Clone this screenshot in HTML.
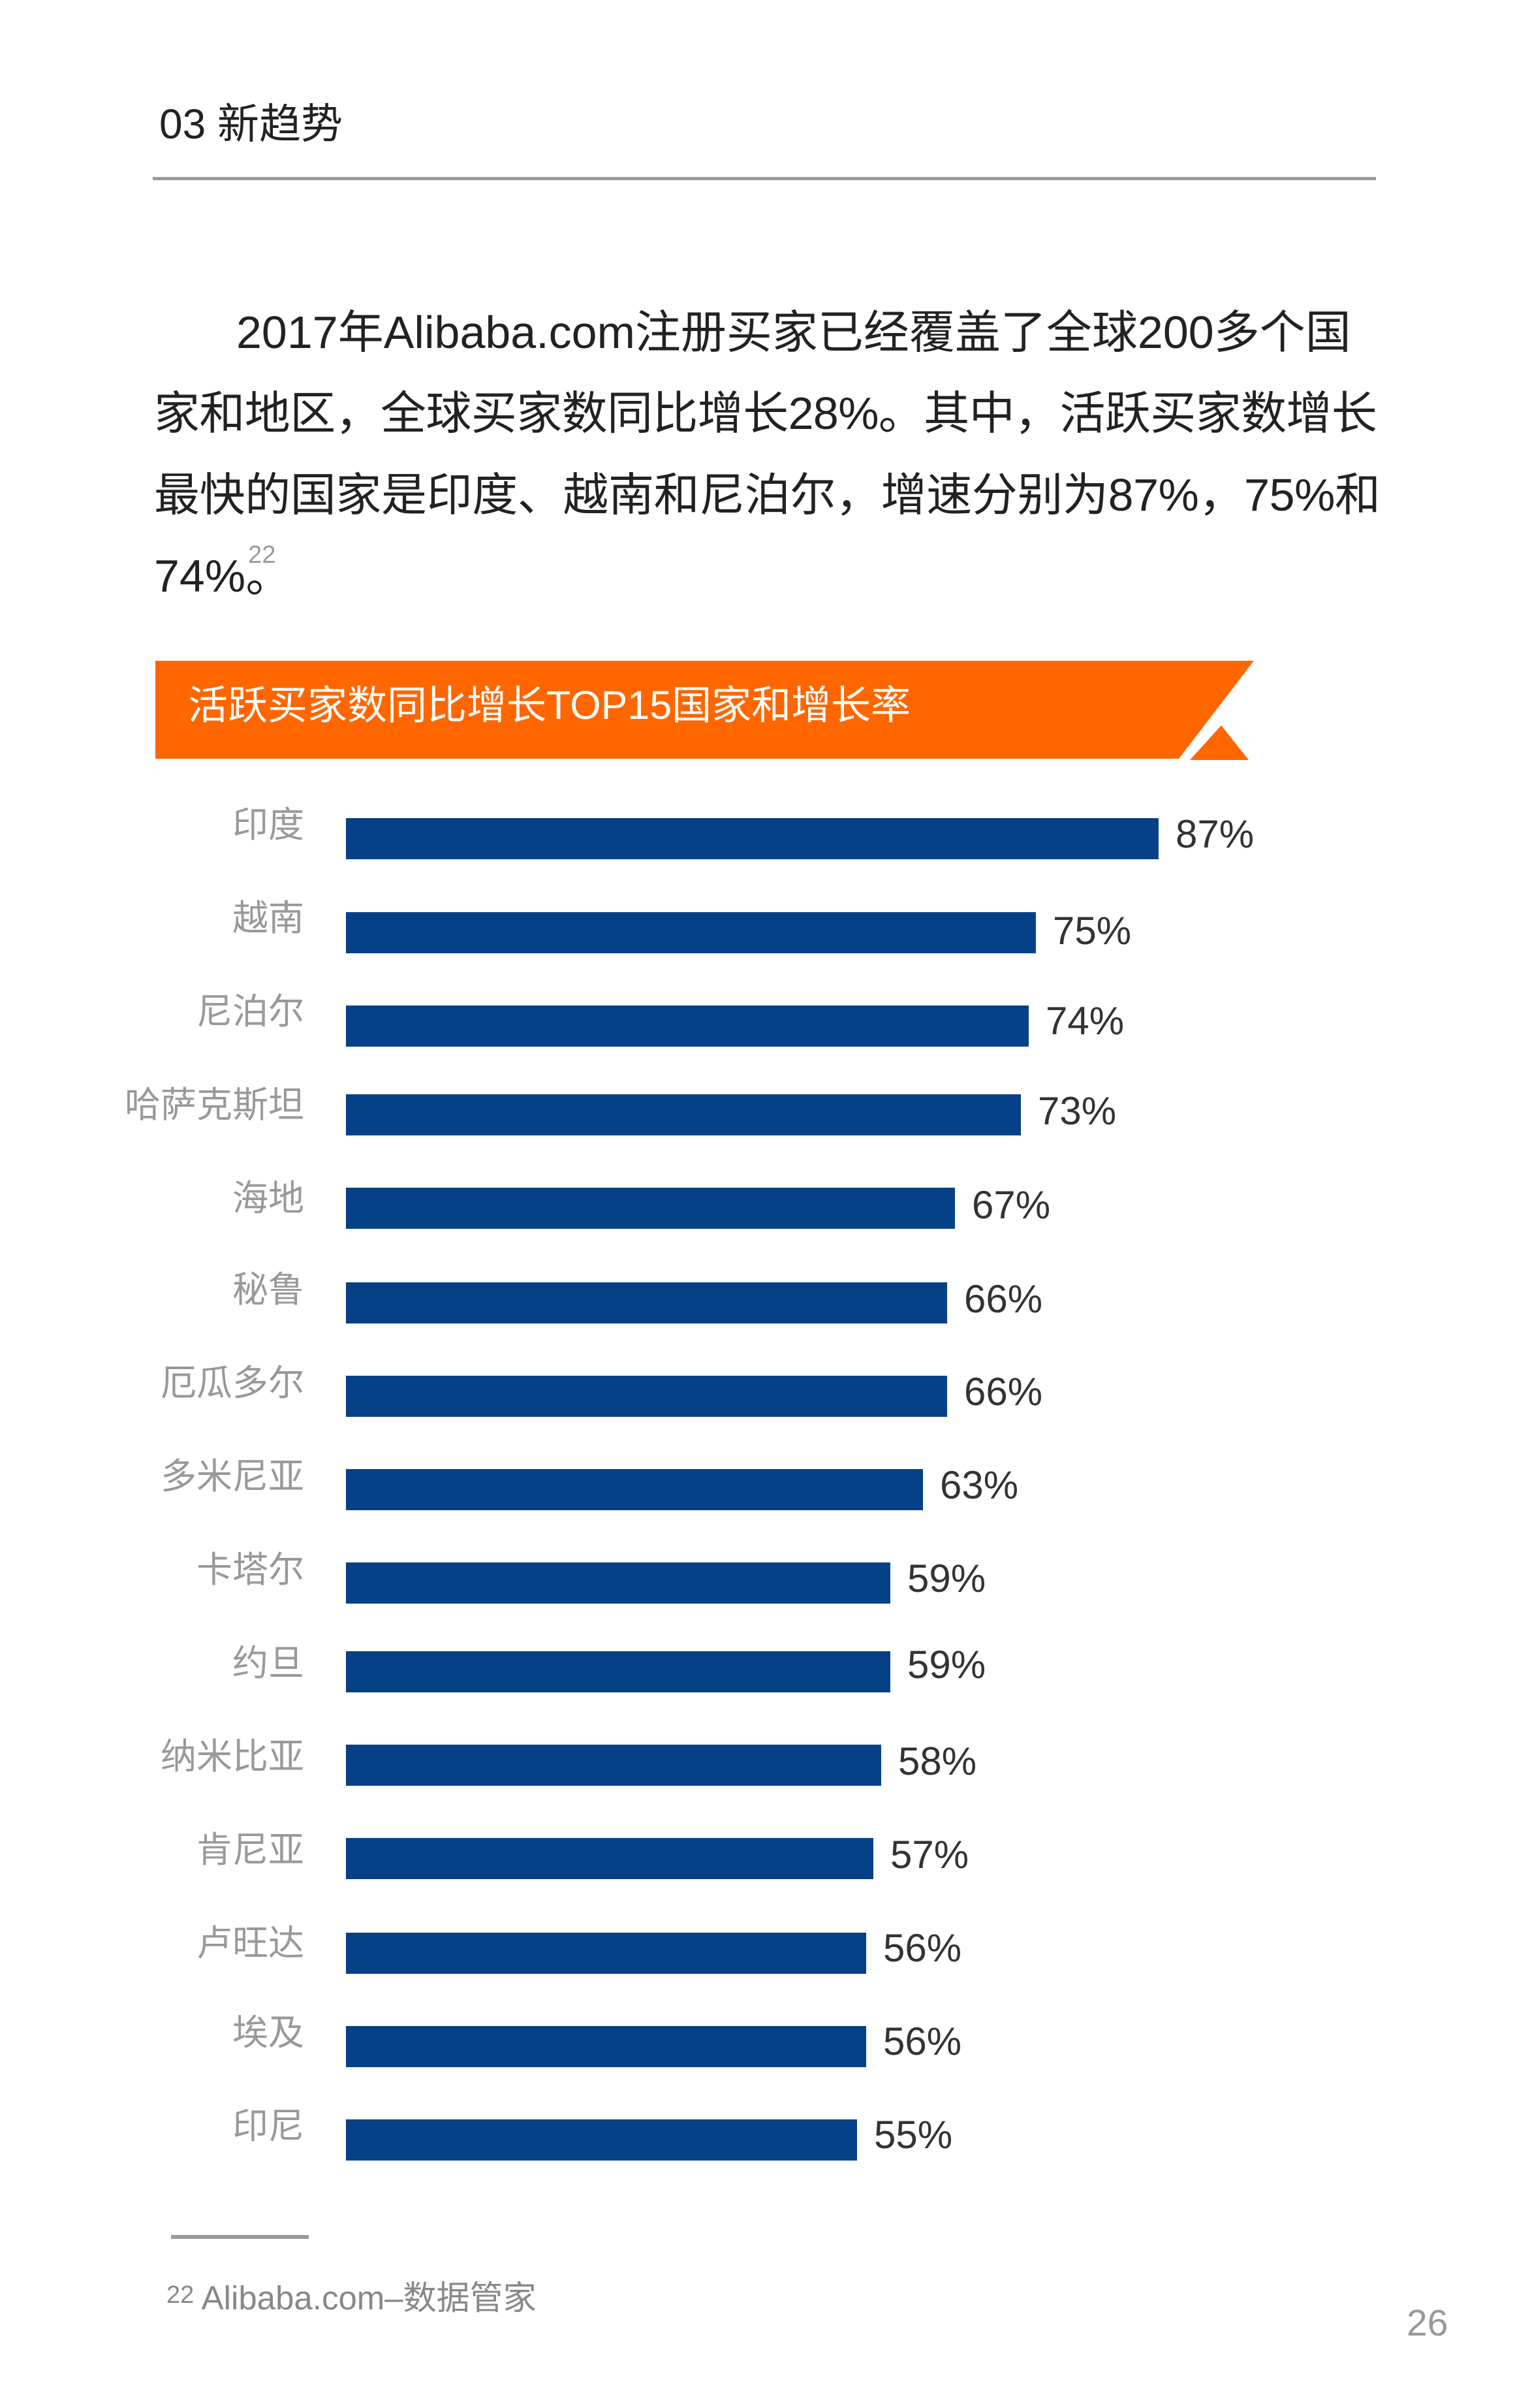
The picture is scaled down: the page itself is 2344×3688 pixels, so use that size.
<!DOCTYPE html>
<html><head><meta charset="utf-8"><style>
html,body{margin:0;padding:0;background:#fff}
body{width:2344px;height:3688px;position:relative;overflow:hidden;font-family:"Liberation Sans","Noto Sans CJK SC",sans-serif}
.a{position:absolute;white-space:nowrap}
.p{left:236px;font-size:70px;color:#222;line-height:70px}
.bar{position:absolute;left:530px;height:63px;background:#064087}
.lab{position:absolute;right:1878px;font-size:55px;color:#999;line-height:55px;white-space:nowrap}
.val{position:absolute;font-size:60px;color:#333;line-height:60px;white-space:nowrap}
</style></head><body>
<div class="a" style="left:244px;top:158px;font-size:64px;color:#222;line-height:64px">03 新趋势</div>
<div class="a" style="left:234px;top:271px;width:1874px;height:5px;background:#9a9a9a"></div>
<div class="a p" style="left:362px;top:474px">2017年Alibaba.com注册买家已经覆盖了全球200多个国</div>
<div class="a p" style="top:598px;letter-spacing:-0.6px">家和地区，全球买家数同比增长28%。其中，活跃买家数增长</div>
<div class="a p" style="top:723px;letter-spacing:-0.4px">最快的国家是印度、越南和尼泊尔，增速分别为87%，75%和</div>
<div class="a p" style="top:847px">74%<span style="position:relative;top:-44px;font-size:38px;color:#999;margin-left:4px">22</span><span style="margin-left:-46px">。</span></div>
<svg class="a" style="left:0;top:0" width="2344" height="1200">
<polygon points="238,1012 1921,1012 1806,1162 238,1162" fill="#ff6600"/>
<polygon points="1871,1111 1913,1164 1823,1164" fill="#ff6600"/>
</svg>
<div class="a" style="left:288px;top:1050px;font-size:61px;color:#fff;line-height:61px">活跃买家数同比增长TOP15国家和增长率</div>

<div class="bar" style="top:1253px;width:1245px"></div><div class="lab" style="top:1236px">印度</div><div class="val" style="left:1801px;top:1248px">87%</div>
<div class="bar" style="top:1397px;width:1057px"></div><div class="lab" style="top:1379px">越南</div><div class="val" style="left:1613px;top:1396px">75%</div>
<div class="bar" style="top:1540px;width:1046px"></div><div class="lab" style="top:1522px">尼泊尔</div><div class="val" style="left:1602px;top:1534px">74%</div>
<div class="bar" style="top:1676px;width:1034px"></div><div class="lab" style="top:1665px">哈萨克斯坦</div><div class="val" style="left:1590px;top:1672px">73%</div>
<div class="bar" style="top:1819px;width:933px"></div><div class="lab" style="top:1808px">海地</div><div class="val" style="left:1489px;top:1816px">67%</div>
<div class="bar" style="top:1964px;width:921px"></div><div class="lab" style="top:1948px">秘鲁</div><div class="val" style="left:1477px;top:1960px">66%</div>
<div class="bar" style="top:2107px;width:921px"></div><div class="lab" style="top:2091px">厄瓜多尔</div><div class="val" style="left:1477px;top:2102px">66%</div>
<div class="bar" style="top:2250px;width:884px"></div><div class="lab" style="top:2234px">多米尼亚</div><div class="val" style="left:1440px;top:2245px">63%</div>
<div class="bar" style="top:2393px;width:834px"></div><div class="lab" style="top:2377px">卡塔尔</div><div class="val" style="left:1390px;top:2388px">59%</div>
<div class="bar" style="top:2529px;width:834px"></div><div class="lab" style="top:2520px">约旦</div><div class="val" style="left:1390px;top:2520px">59%</div>
<div class="bar" style="top:2672px;width:820px"></div><div class="lab" style="top:2663px">纳米比亚</div><div class="val" style="left:1376px;top:2668px">58%</div>
<div class="bar" style="top:2815px;width:808px"></div><div class="lab" style="top:2806px">肯尼亚</div><div class="val" style="left:1364px;top:2811px">57%</div>
<div class="bar" style="top:2960px;width:797px"></div><div class="lab" style="top:2949px">卢旺达</div><div class="val" style="left:1353px;top:2954px">56%</div>
<div class="bar" style="top:3103px;width:797px"></div><div class="lab" style="top:3086px">埃及</div><div class="val" style="left:1353px;top:3097px">56%</div>
<div class="bar" style="top:3246px;width:783px"></div><div class="lab" style="top:3229px">印尼</div><div class="val" style="left:1339px;top:3240px">55%</div>

<div class="a" style="left:262px;top:3423px;width:211px;height:6px;background:#9a9a9a"></div>
<div class="a" style="left:255px;top:3494px;font-size:51px;color:#888;line-height:51px"><span style="font-size:38px;position:relative;top:-10px">22</span> Alibaba.com–数据管家</div>
<div class="a" style="left:2155px;top:3530px;font-size:57px;color:#999;line-height:57px">26</div>
</body></html>
